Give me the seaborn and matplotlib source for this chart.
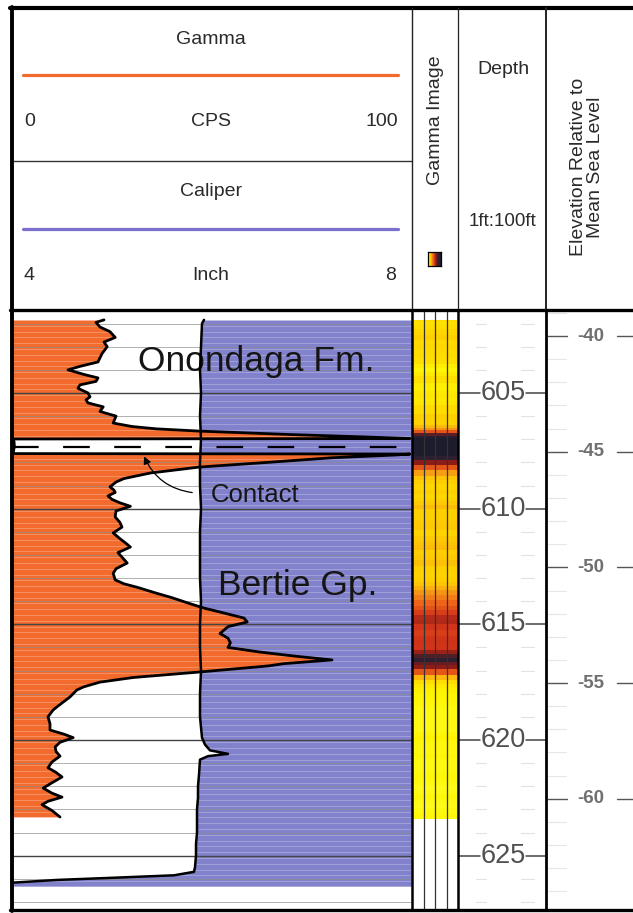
import numpy as np
import pandas as pd
import matplotlib
matplotlib.use('Agg')
import matplotlib.pyplot as plt
from matplotlib.colors import LinearSegmentedColormap
import seaborn as sns

W, H = 633, 913

# gamma ray log, CPS (readings above 100 wrap back onto the 0-100 scale)
gamma_depth = [601.84, 601.95, 602.15, 602.35, 602.6, 602.8, 603.0, 603.3, 603.66, 603.85,
               604.0, 604.2, 604.35, 604.5, 604.65, 604.8, 605.0, 605.17, 605.3, 605.43,
               605.6, 605.8, 606.0, 606.3, 606.45, 606.55, 606.65, 606.8, 606.9, 606.97,
               606.99, 607.1, 607.3, 607.5, 607.62, 607.64, 607.68, 607.8, 608.0, 608.2,
               608.46, 608.7, 608.85, 609.06, 609.2, 609.3, 609.45, 609.6, 609.75, 609.9,
               610.1, 610.36, 610.6, 610.8, 611.05, 611.3, 611.5, 611.66, 611.9, 612.1,
               612.35, 612.6, 612.8, 613.08, 613.25, 613.4, 613.65, 613.85, 614.08, 614.3,
               614.47, 614.73, 614.9, 615.1, 615.4, 615.6, 615.8, 616.0, 616.2, 616.4,
               616.54, 616.7, 616.8, 617.06, 617.3, 617.5, 617.7, 617.84, 618.14, 618.4,
               618.7, 619.0, 619.3, 619.57, 619.75, 619.9, 620.1, 620.3, 620.5, 620.7,
               620.95, 621.2, 621.4, 621.6, 621.85, 622.08, 622.3, 622.47, 622.65, 622.8,
               623.05, 623.33]
gamma_cps = [23, 21, 22, 24.5, 25.8, 23, 23.8, 22.5, 21.5, 17,
             14, 18, 21.5, 21, 17, 16.5, 19, 19.5, 18.5, 19,
             22.8, 22, 26, 25.3, 30, 36, 47, 70, 88, 99.5,
             100.3, 100.5, 100.6, 100.4, 100.3, 99.5, 96, 80, 64, 47,
             34.6, 28, 26, 24.5, 25.5, 25.8, 24, 25, 27, 29.6,
             26, 25.8, 27, 27.5, 25.3, 27, 28.5, 29.6, 26.5, 27.5,
             28.8, 26, 25.3, 25.8, 28, 31.3, 36, 40, 44, 48,
             52, 58, 58.8, 54, 52, 54, 54.6, 54, 62, 72,
             80, 68, 64, 47, 30.3, 22, 18, 16.2, 14.5, 12.5,
             10.3, 9, 9.5, 9.5, 13, 15.3, 12, 10.8, 11, 12,
             10, 9, 11, 12.5, 10, 7.8, 10, 12.5, 9, 7.5,
             10, 12]

# caliper log, inches
caliper_depth = [601.84, 602.0, 603.0, 604.0, 605.0, 606.0, 607.0, 608.0, 609.0, 610.0,
                 611.0, 612.0, 613.0, 614.0, 615.0, 616.0, 617.0, 618.0, 619.0, 619.9,
                 620.2, 620.45, 620.6, 620.7, 620.85, 621.5, 622.0, 622.5, 623.0, 623.5,
                 624.0, 624.5, 625.0, 625.5, 625.7, 625.85, 625.95, 626.05, 626.17, 626.32]
caliper_in = [5.92, 5.90, 5.89, 5.88, 5.89, 5.88, 5.89, 5.88, 5.88, 5.89,
              5.88, 5.88, 5.88, 5.89, 5.88, 5.88, 5.89, 5.88, 5.88, 5.90,
              5.93, 5.98, 6.16, 5.96, 5.88, 5.87, 5.86, 5.86, 5.85, 5.85,
              5.85, 5.84, 5.84, 5.83, 5.82, 5.62, 5.05, 4.45, 4.0, 4.0]

depth_ticks = [605, 610, 615, 620, 625]
elev_ticks = [-40, -45, -50, -55, -60]
datum = 562.54          # elevation of depth 0, ft relative to MSL
contact_depth = 607.35
formations = ['Onondaga Fm.', 'Bertie Gp.']
formation_depth = [603.66, 613.34]
formation_x = [31.5, 51.5]   # left edge, in CPS units

top_depth, base_depth = 601.5, 627.35

ORANGE = '#f26b2d'
PURPLE = '#8282cc'
TXT = '#2a2a2a'

sns.set_theme(style='white')
plt.rcParams['font.family'] = ['Liberation Sans', 'DejaVu Sans']

gam = pd.DataFrame({'depth': gamma_depth, 'cps': gamma_cps})
gam['shown'] = gam['cps'].where(gam['cps'] <= 100, gam['cps'] - 100)
cal = pd.DataFrame({'depth': caliper_depth, 'inch': caliper_in})

fig = plt.figure(figsize=(W / 100, H / 100), dpi=100)


def px_axes(x0, y0, x1, y1):
    return fig.add_axes([x0 / W, 1 - y1 / H, (x1 - x0) / W, (y1 - y0) / H])


# ---- gamma / caliper track
ax_c = px_axes(12, 312, 412, 910)
ax_c.set_zorder(1)
ax_c.fill_betweenx(cal['depth'], cal['inch'], 8, color=PURPLE, lw=0)

ax_g = ax_c.twiny()
ax_g.set_zorder(2)
ax_g.patch.set_visible(False)
ax_g.fill_betweenx(gam['depth'], 0, gam['shown'], color=ORANGE, lw=0)
for d in np.arange(601.6, 627.3, 0.25):
    ax_g.axhline(d, color='white', lw=0.5, alpha=0.35)
for d in range(602, 628):
    if d % 5 == 0:
        ax_g.axhline(d, color='#444444', lw=1.0)
    else:
        ax_g.axhline(d, color='#8c8c8c', lw=0.6, alpha=0.8)
sns.lineplot(data=gam, x='shown', y='depth', orient='y', sort=False, estimator=None,
             color='black', linewidth=2.0, ax=ax_g, legend=False)
ax_g.axhline(contact_depth, color='black', lw=1.6, ls=(0, (12, 11)))
for name, d, x in zip(formations, formation_depth, formation_x):
    ax_g.text(x, d, name, fontsize=25.5, color='#151515', va='center', ha='left')
ax_g.text(49.75, 609.4, 'Contact', fontsize=18.5, color='#151515', va='center', ha='left')
ax_g.annotate('', xy=(32.75, 607.63), xytext=(45.75, 609.32),
              arrowprops=dict(arrowstyle='-|>', color='black', lw=0.9,
                              connectionstyle='arc3,rad=-0.3', mutation_scale=11))

ax_l = ax_c.twiny()
ax_l.set_zorder(3)
ax_l.patch.set_visible(False)
sns.lineplot(data=cal, x='inch', y='depth', orient='y', sort=False, estimator=None,
             color='black', linewidth=1.8, ax=ax_l, legend=False)

ax_c.set_xlim(4, 8)
ax_l.set_xlim(4, 8)
ax_g.set_xlim(0, 100)
ax_c.set_ylim(base_depth, top_depth)
for a in (ax_c, ax_g, ax_l):
    a.axis('off')

# ---- gamma image track
cmap = LinearSegmentedColormap.from_list('gimg', [
    (0.0, '#ffff30'), (0.15, '#fff400'), (0.26, '#ffd000'), (0.33, '#f8a812'),
    (0.44, '#ee6418'), (0.54, '#d23418'), (0.64, '#8a1c18'), (0.76, '#302030'),
    (1.0, '#1c1c2c')])
dep = gam['depth'].to_numpy()
mids = (dep[1:] + dep[:-1]) / 2
edges = np.concatenate([[dep[0]], mids, [dep[-1] + 0.1]])
img = np.repeat(gam['cps'].to_numpy()[:, None], 4, axis=1)
ax_i = px_axes(412, 312, 458, 910)
ax_i.pcolormesh(np.arange(5), edges, img, cmap=cmap, vmin=0, vmax=100, shading='flat')
for x in (1, 2, 3):
    ax_i.axvline(x, color='#333333', lw=0.9)
ax_i.set_xlim(0, 4)
ax_i.set_ylim(base_depth, top_depth)
ax_i.axis('off')

# ---- depth track
ax_d = px_axes(458, 312, 546, 910)
for d in range(602, 628):
    if d in depth_ticks:
        ax_d.plot([0.01, 0.25], [d, d], color='#444444', lw=1.1)
        ax_d.plot([0.77, 0.99], [d, d], color='#444444', lw=1.1)
        ax_d.text(0.51, d, str(d), fontsize=19.5, color='#505050', ha='center', va='center')
    else:
        ax_d.plot([0.2, 0.32], [d, d], color='#e2e2e2', lw=0.8)
        ax_d.plot([0.72, 0.86], [d, d], color='#e2e2e2', lw=0.8)
ax_d.set_xlim(0, 1)
ax_d.set_ylim(base_depth, top_depth)
ax_d.axis('off')

# ---- elevation track
ax_e = px_axes(546, 312, 645, 910)
for e in range(-64, -38):
    if e in elev_ticks:
        ax_e.plot([0.02, 0.21], [e, e], color='#555555', lw=1.0)
        ax_e.plot([0.72, 0.95], [e, e], color='#555555', lw=1.0)
        ax_e.text(0.455, e, str(e), fontsize=13.5, fontweight='bold', color='#707070',
                  ha='center', va='center')
    else:
        ax_e.plot([0.02, 0.2], [e, e], color='#e6e6e6', lw=0.8)
ax_e.set_xlim(0, 1)
ax_e.set_ylim(datum - base_depth, datum - top_depth)
ax_e.axis('off')

# ---- header and frame
ov = fig.add_axes([0, 0, 1, 1])
ov.set_zorder(10)
ov.patch.set_visible(False)
ov.set_xlim(0, W)
ov.set_ylim(H, 0)
ov.axis('off')

ov.text(211, 40, 'Gamma', fontsize=14, color=TXT, ha='center', va='center')
ov.plot([23, 398], [75, 75], color=ORANGE, lw=2.3, solid_capstyle='round')
ov.text(24, 122, '0', fontsize=14, color=TXT, ha='left', va='center')
ov.text(211, 122, 'CPS', fontsize=14, color=TXT, ha='center', va='center')
ov.text(398, 122, '100', fontsize=14, color=TXT, ha='right', va='center')
ov.plot([12, 412], [161, 161], color='#333333', lw=1.0)
ov.text(211, 191, 'Caliper', fontsize=14, color=TXT, ha='center', va='center')
ov.plot([23, 398], [229, 229], color='#7b70d0', lw=2.3, solid_capstyle='round')
ov.text(24, 275, '4', fontsize=14, color=TXT, ha='left', va='center')
ov.text(211, 275, 'Inch', fontsize=14, color=TXT, ha='center', va='center')
ov.text(396, 275, '8', fontsize=14, color=TXT, ha='right', va='center')

ov.text(435, 120, 'Gamma Image', fontsize=14, color=TXT, ha='center', va='center', rotation=90)
ov.text(503, 70, 'Depth', fontsize=14, color=TXT, ha='center', va='center')
ov.text(502, 222, '1ft:100ft', fontsize=13.5, color=TXT, ha='center', va='center')
ov.text(587, 167, 'Elevation Relative to\nMean Sea Level', fontsize=14, color=TXT,
        ha='center', va='center', rotation=90, linespacing=1.05)

chip = px_axes(428, 252, 441, 266)
chip.imshow(np.linspace(0.12, 1.0, 16)[None, :], cmap=cmap, vmin=0, vmax=1, aspect='auto')
chip.set_xticks([])
chip.set_yticks([])
for s in chip.spines.values():
    s.set_color('black')
    s.set_linewidth(0.9)

# frame lines
ov.plot([10, W], [8, 8], color='black', lw=3.0)
ov.plot([12, 12], [7, 911], color='black', lw=2.8)
ov.plot([10, W], [910, 910], color='black', lw=2.4)
ov.plot([10, W], [310.5, 310.5], color='black', lw=2.4)
for x, lw_head, lw_track in ((412, 1.0, 1.8), (457.5, 0.9, 1.8), (546, 1.4, 2.0)):
    ov.plot([x, x], [8, 310], color='#222222', lw=lw_head)
    ov.plot([x, x], [310, 910], color='black', lw=lw_track)

fig.savefig('out.png', dpi=100)
